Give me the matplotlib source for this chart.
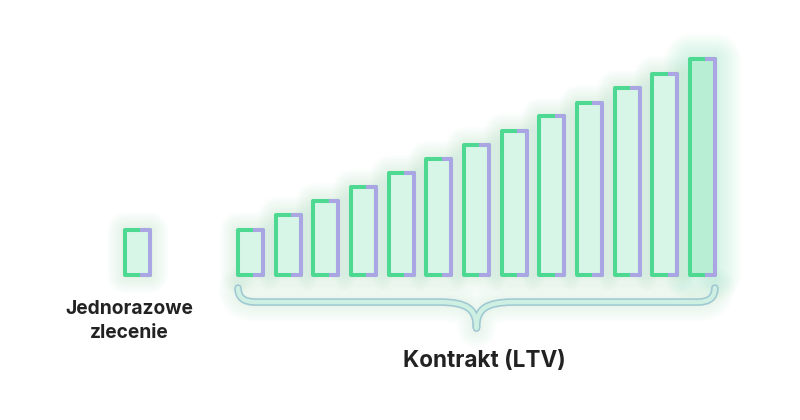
import matplotlib.pyplot as plt
from matplotlib.patches import Rectangle, PathPatch
from matplotlib.path import Path

# data
single_label = 'Jednorazowe\nzlecenie'
contract_label = 'Kontrakt (LTV)'
single_value = 1.0
contract_values = [1.0, 1.33, 1.64, 1.96, 2.27, 2.58, 2.89, 3.2, 3.53, 3.82, 4.16, 4.47, 4.8]

green = '#4ed993'
purple = '#aaa6e4'
fill = '#d7f6e8'
fill_last = '#b8efd4'

plt.rcParams['font.family'] = ['Inter', 'DejaVu Sans']

fig = plt.figure(figsize=(8, 4.2), dpi=100)
ax = fig.add_axes([0, 0, 1, 1])
ax.set_xlim(-3.65, 17.59)
ax.set_ylim(-3.22, 6.11)
ax.axis('off')

xs = [0] + [3 + i for i in range(len(contract_values))]
vals = [single_value] + contract_values
w = 0.66

for i, (x, v) in enumerate(zip(xs, vals)):
    last = i == len(vals) - 1
    # soft glow, many faint layers
    n = 12
    for k in range(n):
        lw = 4 + k * (3.0 if last else 2.0)
        ax.add_patch(Rectangle((x - w / 2, 0), w, v, facecolor='none', edgecolor=green,
                               lw=lw, alpha=0.018 if last else 0.01,
                               joinstyle='round', zorder=1))
    ax.add_patch(Rectangle((x - w / 2, 0), w, v, facecolor=fill_last if last else fill,
                           edgecolor=green, lw=2.9, joinstyle='round', zorder=2))
    right = Rectangle((x - w / 2, 0), w, v, facecolor='none', edgecolor=purple,
                      lw=2.9, joinstyle='round', zorder=3)
    ax.add_patch(right)
    clip = Rectangle((x + w * 0.12, -0.5), w, v + 1, transform=ax.transData)
    right.set_clip_path(clip)

# brace under the contract bars
L = xs[1] - w / 2
R = xs[-1] + w / 2
M = (xs[1] + xs[-1]) / 2
y0, y1, y2 = -0.29, -0.6, -1.18
verts = [(L, y0), (L, y1), (L + 0.45, y1),
         (M - 1.0, y1),
         (M - 0.25, y1), (M, y1 - 0.15), (M, y2),
         (M, y1 - 0.15), (M + 0.25, y1), (M + 1.0, y1),
         (R - 0.45, y1),
         (R, y1), (R, y0)]
codes = [Path.MOVETO, Path.CURVE3, Path.CURVE3,
         Path.LINETO,
         Path.CURVE4, Path.CURVE4, Path.CURVE4,
         Path.CURVE4, Path.CURVE4, Path.CURVE4,
         Path.LINETO,
         Path.CURVE3, Path.CURVE3]
brace = Path(verts, codes)
for k in range(10):
    ax.add_patch(PathPatch(brace, facecolor='none', edgecolor=green, lw=6 + 2.5 * k,
                           alpha=0.012, capstyle='round', joinstyle='round', zorder=1))
ax.add_patch(PathPatch(brace, facecolor='none', edgecolor='#a0c8d2', lw=5.5,
                       capstyle='round', joinstyle='round', zorder=2))
ax.add_patch(PathPatch(brace, facecolor='none', edgecolor='#cdf0e2', lw=3.2,
                       capstyle='round', joinstyle='round', zorder=3))

ax.text(-0.22, -1.02, single_label, ha='center', va='center', fontsize=13.8,
        fontweight='bold', color='#222222', linespacing=1.4)
ax.text(M + 0.2, -2.04, contract_label, ha='center', va='baseline', fontsize=16.2,
        fontweight='bold', color='#222222')

fig.savefig('out.png', dpi=100, facecolor='white')
